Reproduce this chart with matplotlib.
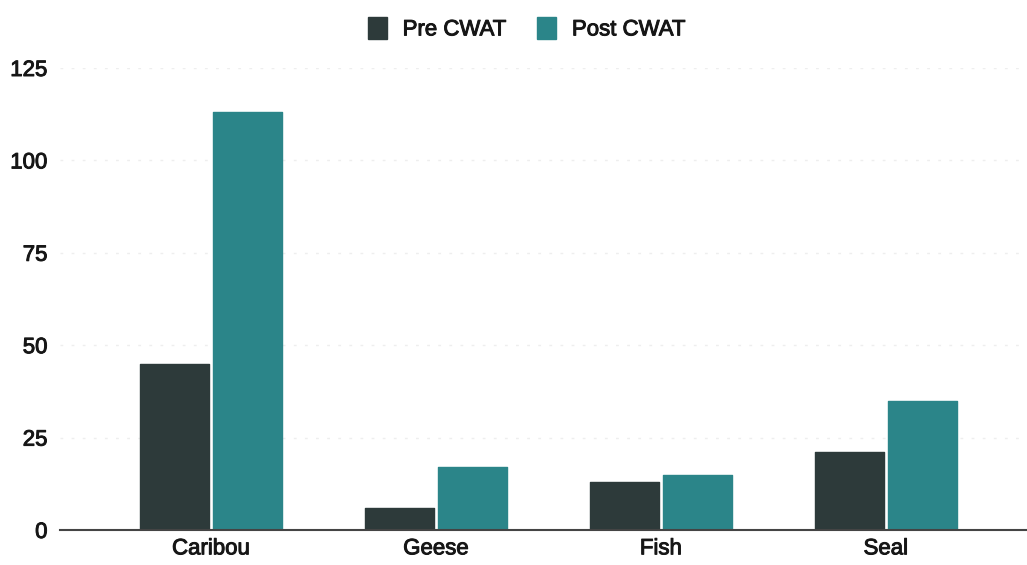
import matplotlib.pyplot as plt
import matplotlib.patheffects as pe
import numpy as np

plt.rcParams['font.family'] = ['Liberation Sans', 'DejaVu Sans']

categories = ['Caribou', 'Geese', 'Fish', 'Seal']
pre_cwat = [45, 6, 13, 21]
post_cwat = [113, 17, 15, 35]
y_ticks = [0, 25, 50, 75, 100, 125]

dark = '#2d3a3a'
teal = '#2b8589'
text_color = '#161616'
heavy = [pe.withStroke(linewidth=0.7, foreground=text_color)]

fig = plt.figure(figsize=(10.27, 5.65), dpi=100)
ax = fig.add_axes([60 / 1027, 35 / 565, 967 / 1027, 462 / 565])

x = np.arange(len(categories))
width = 0.306
offset = 0.163
ax.bar(x - offset, pre_cwat, width, color=dark, edgecolor=dark, linewidth=1,
       joinstyle='round', label='Pre CWAT', zorder=3)
ax.bar(x + offset, post_cwat, width, color=teal, edgecolor=teal, linewidth=1,
       joinstyle='round', label='Post CWAT', zorder=3)

ax.set_xlim(-0.671, 3.627)
ax.set_ylim(0, 125)
ax.set_yticks(y_ticks)
ax.set_xticks(x)
ax.set_xticklabels(categories)
ax.tick_params(axis='both', length=0, labelsize=16, colors=text_color)
ax.tick_params(axis='y', pad=9)
ax.tick_params(axis='x', pad=6)
for lbl in ax.get_xticklabels() + ax.get_yticklabels():
    lbl.set_path_effects(heavy)

ax.grid(axis='y', color='#eeeeee', linestyle=(0, (2, 6)), linewidth=1, zorder=0)
for side in ['top', 'right', 'left']:
    ax.spines[side].set_visible(False)
ax.spines['bottom'].set_color('#444444')
ax.spines['bottom'].set_linewidth(1.5)
ax.spines['bottom'].set_zorder(4)

leg = fig.legend(loc='upper center', bbox_to_anchor=(0.513, 1.005), ncol=2, frameon=False,
                 fontsize=16, handlelength=0.85, handleheight=1.1, handletextpad=0.7,
                 columnspacing=1.4)
for t in leg.get_texts():
    t.set_color(text_color)
    t.set_path_effects(heavy)

plt.savefig('out.png', dpi=100)
plt.close()
